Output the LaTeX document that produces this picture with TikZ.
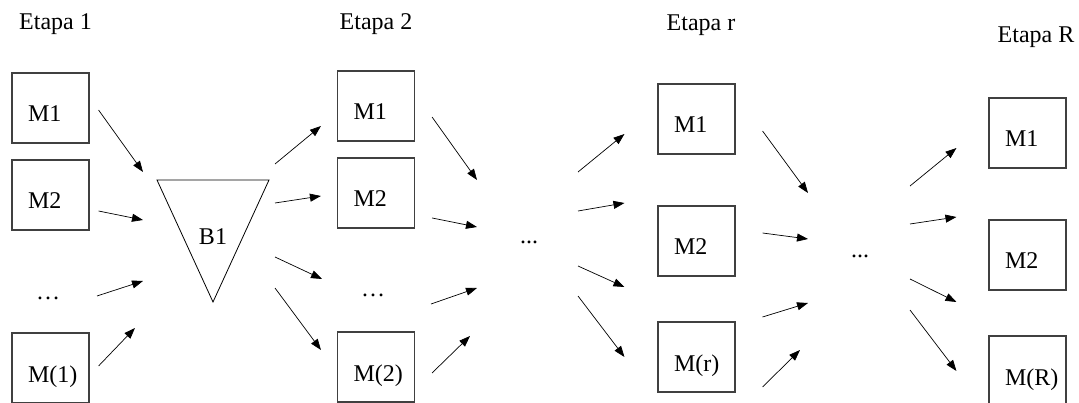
\documentclass[tikz,border=0pt]{standalone}
\usepackage{fontspec}
\setmainfont{Liberation Serif}
\usetikzlibrary{arrows.meta}
\definecolor{boxgray}{gray}{0.25}

\begin{document}
\begin{tikzpicture}[x=1pt,y=-1pt,font=\fontsize{24}{28}\selectfont,
	mbox/.style={draw=boxgray,line width=1.1pt,minimum width=77pt,minimum height=70pt,text width=45pt,inner xsep=16pt,align=left,text height=28pt,text depth=0pt},
	arr/.style={-{Triangle[length=11pt,width=8pt]},line width=.7pt}]
			\useasboundingbox (0,0) rectangle (1079,403);
			\node[anchor=base] (t1) at (55.5,30) {Etapa 1}; \node[anchor=base] (t2) at (376,30) {Etapa 2};
			\node[anchor=base] (t3) at (701,30.5) {Etapa r}; \node[anchor=base] (t4) at (1036,43) {Etapa R};
			
			\node[mbox] (m11) at (50.5,108) {M1}; \node[mbox] (m12) at (50.5,195) {M2};
			\node[anchor=base] (d1) at (48,300) {\ldots}; \node[mbox] (m1n) at (50.5,368) {M(1)};
			
			\node (b1) at (213,237) {B1};
			\draw[line width=.8pt] ([shift={(-56,-57)}]b1.center) -- ([shift={(56,-57)}]b1.center) -- ([shift={(0,65)}]b1.center) -- cycle;
			
			\node[mbox] (m21) at (376,106) {M1}; \node[mbox] (m22) at (376,193) {M2};
			\node[anchor=base] (d2) at (373,297) {\ldots}; \node[mbox] (m2n) at (376,367) {M(2)};
			\node[anchor=base] (da) at (529,244) {...};
			
			\node[mbox] (mr1) at (696.5,119) {M1}; \node[mbox] (mr2) at (696.5,241) {M2}; \node[mbox] (mrn) at (696.5,357) {M(r)};
			\node[anchor=base] (db) at (860,258) {...};
			
			\node[mbox] (mR1) at (1027.5,133) {M1}; \node[mbox] (mR2) at (1027.5,255) {M2}; \node[mbox] (mRn) at (1027.5,371) {M(R)};
			
			\draw[arr] ([shift={(9,2)}]m11.east) -- ([shift={(-70,-65)}]b1.center);
			\draw[arr] ([shift={(9,16)}]m12.east) -- ([shift={(-70,-17)}]b1.center);
			\draw[arr] ([shift={(49,-4)}]d1.base) -- ([shift={(-70,44)}]b1.center);
			\draw[arr] ([shift={(9,-2)}]m1n.east) -- ([shift={(-78,91)}]b1.center);
			
			\draw[arr] ([shift={(62,-73)}]b1.center) -- ([shift={(-16,20)}]m21.west);
			\draw[arr] ([shift={(62,-34)}]b1.center) -- ([shift={(-16,3)}]m22.west);
			\draw[arr] ([shift={(62,20)}]b1.center) -- ([shift={(-51,-18)}]d2.base);
			\draw[arr] ([shift={(62,51)}]b1.center) -- ([shift={(-16,-17)}]m2n.west);
			
			\draw[arr] ([shift={(17,11)}]m21.east) -- ([shift={(-52,-64)}]da.base);
			\draw[arr] ([shift={(17,25)}]m22.east) -- ([shift={(-52,-17)}]da.base);
			\draw[arr] ([shift={(58,7)}]d2.base) -- ([shift={(-52,44)}]da.base);
			\draw[arr] ([shift={(17,6)}]m2n.east) -- ([shift={(-59,92)}]da.base);
			
			\draw[arr] ([shift={(49,-72)}]da.base) -- ([shift={(-33,15)}]mr1.west);
			\draw[arr] ([shift={(49,-33)}]da.base) -- ([shift={(-33,-38)}]mr2.west);
			\draw[arr] ([shift={(49,22)}]da.base) -- ([shift={(-33,46)}]mr2.west);
			\draw[arr] ([shift={(49,52)}]da.base) -- ([shift={(-33,0)}]mrn.west);
			
			\draw[arr] ([shift={(27,12)}]mr1.east) -- ([shift={(-52,-65)}]db.base);
			\draw[arr] ([shift={(27,-8)}]mr2.east) -- ([shift={(-52,-19)}]db.base);
			\draw[arr] ([shift={(27,-40)}]mrn.east) -- ([shift={(-52,45)}]db.base);
			\draw[arr] ([shift={(27,30)}]mrn.east) -- ([shift={(-60,92)}]db.base);
			
			\draw[arr] ([shift={(50,-72)}]db.base) -- ([shift={(-32,15)}]mR1.west);
			\draw[arr] ([shift={(50,-34)}]db.base) -- ([shift={(-32,-38)}]mR2.west);
			\draw[arr] ([shift={(50,21)}]db.base) -- ([shift={(-32,47)}]mR2.west);
			\draw[arr] ([shift={(50,52)}]db.base) -- ([shift={(-32,0)}]mRn.west);
\end{tikzpicture}
\end{document}
